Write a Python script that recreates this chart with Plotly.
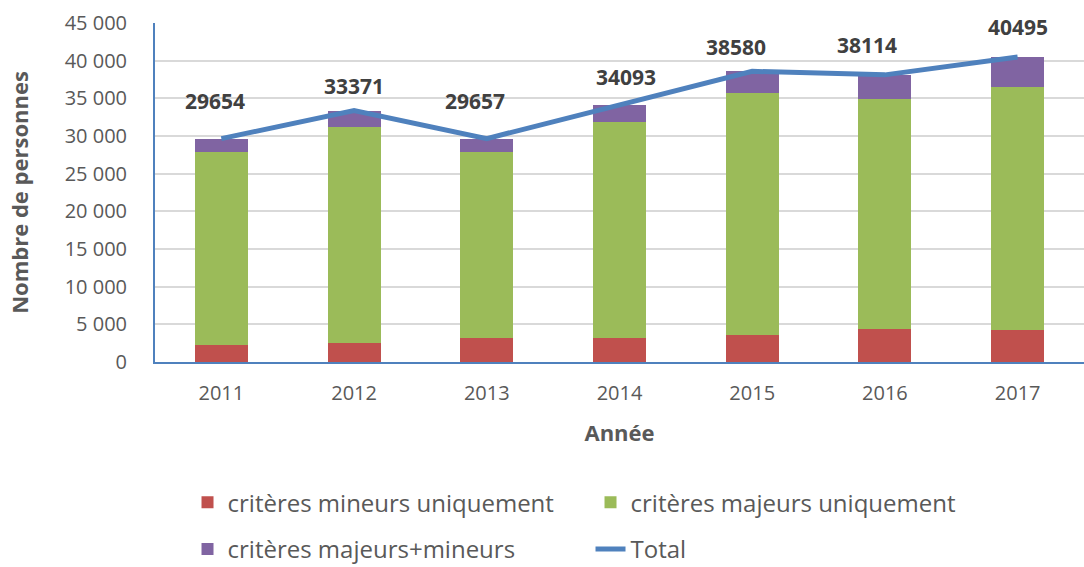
import plotly.graph_objects as go

years = ["2011", "2012", "2013", "2014", "2015", "2016", "2017"]
mineurs = [2200, 2500, 3200, 3200, 3600, 4350, 4200]
majeurs = [25650, 28670, 24650, 28670, 32080, 30540, 32280]
majeurs_mineurs = [1804, 2201, 1807, 2223, 2900, 3224, 4015]
total = [29654, 33371, 29657, 34093, 38580, 38114, 40495]

y_ticks = [0, 5000, 10000, 15000, 20000, 25000, 30000, 35000, 40000, 45000]
y_tick_text = ["0", "5 000", "10 000", "15 000", "20 000", "25 000",
               "30 000", "35 000", "40 000", "45 000"]

# per-label pixel nudges for the total value labels
label_dx = [-6, 0, -12, 6, -16, -18, 0]
label_dy = [38, 25, 38, 28, 24, 30, 30]

FONT = "Open Sans"
RED, GREEN, PURPLE, BLUE = "#C0504D", "#9BBB59", "#8064A2", "#4F81BD"

fig = go.Figure()
fig.add_trace(go.Bar(x=years, y=mineurs, name="critères mineurs uniquement",
                     marker=dict(color=RED, line=dict(width=0)), legend="legend"))
fig.add_trace(go.Bar(x=years, y=majeurs, name="critères majeurs uniquement",
                     marker=dict(color=GREEN, line=dict(width=0)), legend="legend"))
fig.add_trace(go.Bar(x=years, y=majeurs_mineurs, name="critères majeurs+mineurs",
                     marker=dict(color=PURPLE, line=dict(width=0)), legend="legend2"))
fig.add_trace(go.Scatter(x=years, y=total, name="Total", mode="lines",
                         line=dict(color=BLUE, width=5), legend="legend2"))

# total labels: x given as category index so "2011" is not read as a position
for i, (v, dx, dy) in enumerate(zip(total, label_dx, label_dy)):
    fig.add_annotation(x=i, y=v, text=str(v), showarrow=False,
                       xshift=dx, yshift=dy,
                       font=dict(family=FONT, size=21, color="#404040", weight="bold"))

legend_common = dict(orientation="h", xanchor="left", yanchor="middle",
                     entrywidth=358, entrywidthmode="pixels",
                     font=dict(family=FONT, size=24, color="#595959"),
                     bgcolor="rgba(0,0,0,0)", traceorder="normal")

fig.update_layout(
    width=1084, height=567,
    margin=dict(l=155, r=0, t=23, b=205, autoexpand=False),
    barmode="stack", bargap=0.6,
    plot_bgcolor="white", paper_bgcolor="white",
    font=dict(family=FONT, color="#595959"),
    xaxis=dict(type="category", range=[-0.5, len(years) - 0.5],
               showgrid=False, showline=True, linecolor=BLUE,
               linewidth=2, ticks="", ticklabelstandoff=12,
               tickfont=dict(size=20, color="#595959"),
               title=dict(text="Année", standoff=21,
                          font=dict(size=22, color="#595959", weight="bold"))),
    yaxis=dict(range=[0, 45000], tickvals=y_ticks, ticktext=y_tick_text,
               showgrid=True, gridcolor="#D9D9D9", gridwidth=2,
               showline=True, linecolor=BLUE, linewidth=2,
               ticks="", ticklabelstandoff=22, zeroline=False,
               tickfont=dict(size=20, color="#595959"),
               title=dict(text="Nombre de personnes", standoff=30,
                          font=dict(size=22, color="#595959", weight="bold"))),
    legend=dict(x=0.035, y=-0.415, **legend_common),
    legend2=dict(x=0.035, y=-0.553, **legend_common),
)

fig.write_html("out.html")
